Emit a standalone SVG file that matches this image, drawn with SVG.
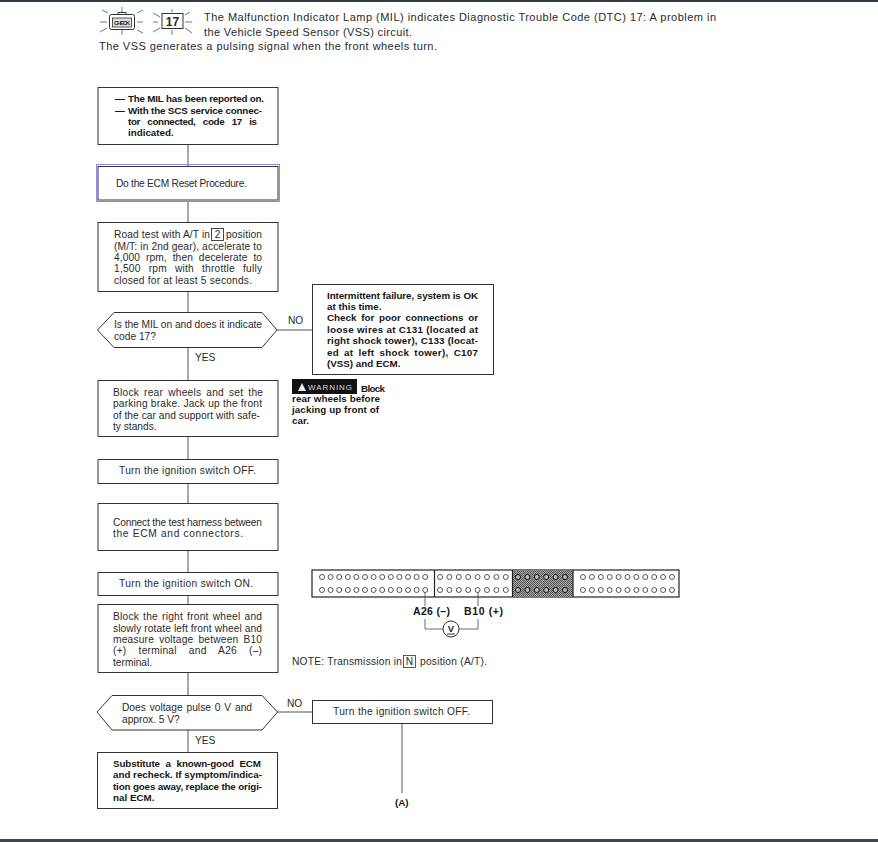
<svg xmlns="http://www.w3.org/2000/svg" width="878" height="842" viewBox="0 0 878 842">
<style>
text{font-family:"Liberation Sans",Arial,sans-serif;font-size:10.2px;fill:#2a2a2a}
.b{font-weight:700;fill:#151515;font-size:9.8px}
.h{font-size:11px}
.box{fill:#fff;stroke:#333;stroke-width:1}
.ln{fill:none;stroke:#555;stroke-width:1}
.ray{stroke:#555;stroke-width:.8}
.pin{fill:none;stroke:#444;stroke-width:.9}
.pd{fill:#bbb;stroke:#111;stroke-width:1}
</style>
<defs>
<pattern id="dots" width="2" height="2" patternUnits="userSpaceOnUse"><rect width="2" height="2" fill="#aaa"/><rect width="1" height="1" fill="#555"/><rect x="1" y="1" width="1" height="1" fill="#555"/></pattern>
<circle id="p" r="2.5" class="pin"/>
<circle id="q" r="2.5" class="pd"/>
</defs>
<rect width="878" height="842" fill="#fff"/>
<rect width="878" height="2" fill="#2f3e4a"/>
<rect y="839" width="878" height="3" fill="#3b4854"/>
<g id="header">
<path class="ray" d="M100 22h7M137 22h6M122 7v5M122 30v5M102 10l6 3M143 10l-6 3M100 32l7-4M143 33l-6-3M153 22h5M185 22h7M172 9v3M172 30v5M153 13l7 4M190 12l-5 3M153 32l7-4M192 33l-7-5"/>
<rect x="109.500" y="14.500" width="25" height="15" rx="2" fill="#fff" stroke="#333"/>
<rect x="112.500" y="18" width="19" height="9" fill="#ddd" stroke="#333" stroke-width=".8"/>
<path d="M118 14v-1.500h8v1.500" fill="none" stroke="#333"/>
<text x="114" y="25" textLength="16" style="font-size:6px;font-weight:700">CHECK</text>
<rect x="162" y="13.500" width="21" height="15" fill="#fff" stroke="#333"/>
<text x="172.500" y="26" text-anchor="middle" style="font-size:12px;font-weight:700">17</text>
<text class="h" x="204" y="21" textLength="512">The Malfunction Indicator Lamp (MIL) indicates Diagnostic Trouble Code (DTC) 17: A problem in</text>
<text class="h" x="204" y="36" textLength="208">the Vehicle Speed Sensor (VSS) circuit.</text>
<text class="h" x="99" y="50" textLength="338">The VSS generates a pulsing signal when the front wheels turn.</text>
</g>
<g id="connectors">
<path class="ln" d="M188 144V166M188 201V222M188 291V312M188 347V380M188 436V459M188 483V503M188 550V572M188 595V604M188 672V695M188 730V752M277 330H312M277 712H312M402 723V793"/>
</g>
<g id="n1"><rect class="box" x="98" y="87.500" width="180" height="57"/>
<text class="b" x="115" y="102">—</text><text class="b" x="128" y="102" textLength="136">The MIL has been reported on.</text>
<text class="b" x="115" y="114">—</text><text class="b" x="128" y="114" textLength="134">With the SCS service connec-</text>
<text class="b" x="128" y="125" word-spacing="5" textLength="129">tor connected, code 17 is</text>
<text class="b" x="128" y="136">indicated.</text></g>
<g id="n2"><rect class="box" x="98" y="166.500" width="180" height="33.500"/><rect x="96.500" y="164.500" width="183" height="37" fill="none" stroke="#8a8af0"/>
<text x="116" y="187" textLength="131">Do the ECM Reset Procedure.</text></g>
<g id="n3"><rect class="box" x="98" y="222.500" width="180" height="69"/>
<text x="114" y="238" textLength="96">Road test with A/T in</text><rect x="211.500" y="228.500" width="12" height="12" fill="none" stroke="#333" stroke-width=".9"/><text x="217.500" y="238" text-anchor="middle">2</text><text x="226" y="238" textLength="36">position</text>
<text x="114" y="250" textLength="148">(M/T: in 2nd gear), accelerate to</text>
<text x="114" y="261" word-spacing="3" textLength="148">4,000 rpm, then decelerate to</text>
<text x="114" y="272" word-spacing="5" textLength="148">1,500 rpm with throttle fully</text>
<text x="114" y="284" textLength="138">closed for at least 5 seconds.</text></g>
<g id="n4"><polygon class="box" points="97.500,330 114,312.500 262,312.500 277,330 262,347.500 114,347.500"/>
<text x="114" y="328" textLength="148">Is the MIL on and does it indicate</text>
<text x="114" y="340">code 17?</text></g>
<text x="288" y="324">NO</text>
<text x="195" y="361">YES</text>
<g id="n5"><rect class="box" x="312.500" y="284.500" width="181" height="90"/>
<text class="b" x="327" y="299" textLength="151">Intermittent failure, system is OK</text>
<text class="b" x="327" y="310">at this time.</text>
<text class="b" x="327" y="321" word-spacing="2" textLength="151">Check for poor connections or</text>
<text class="b" x="327" y="333" textLength="151">loose wires at C131 (located at</text>
<text class="b" x="327" y="344" textLength="151">right shock tower), C133 (locat-</text>
<text class="b" x="327" y="356" word-spacing="2" textLength="151">ed at left shock tower), C107</text>
<text class="b" x="327" y="367">(VSS) and ECM.</text></g>
<g id="warning"><rect x="292" y="379" width="65" height="15" fill="#111"/>
<polygon points="302,383 306,391 298,391" fill="#eee"/>
<text x="308" y="390" textLength="44" style="font-size:8px;fill:#ddd">WARNING</text>
<text class="b" x="361" y="392" textLength="24">Block</text>
<text class="b" x="292" y="402" textLength="88">rear wheels before</text>
<text class="b" x="292" y="413" textLength="87">jacking up front of</text>
<text class="b" x="292" y="424">car.</text></g>
<g id="n6"><rect class="box" x="98" y="380.500" width="180" height="56"/>
<text x="113" y="396" word-spacing="2" textLength="150">Block rear wheels and set the</text>
<text x="113" y="407" textLength="149">parking brake. Jack up the front</text>
<text x="113" y="419" textLength="147">of the car and support with safe-</text>
<text x="113" y="430">ty stands.</text></g>
<g id="n7"><rect class="box" x="98" y="459.500" width="180" height="24"/><text x="119" y="474" textLength="137">Turn the ignition switch OFF.</text></g>
<g id="n8"><rect class="box" x="98" y="503.500" width="180" height="47"/>
<text x="113" y="526" textLength="149">Connect the test harness between</text>
<text x="113" y="537" textLength="130">the ECM and connectors.</text></g>
<g id="n9"><rect class="box" x="98" y="572.500" width="180" height="23"/><text x="119" y="587" textLength="134">Turn the ignition switch ON.</text></g>
<g id="n10"><rect class="box" x="98" y="604.500" width="180" height="68"/>
<text x="113" y="620" word-spacing="1" textLength="149">Block the right front wheel and</text>
<text x="113" y="632" textLength="149">slowly rotate left front wheel and</text>
<text x="113" y="643" word-spacing="2" textLength="149">measure voltage between B10</text>
<text x="113" y="654" word-spacing="9" textLength="149">(+) terminal and A26 (–)</text>
<text x="113" y="666">terminal.</text></g>
<g id="n11"><polygon class="box" points="97,712 112,695.500 262,695.500 277.500,712 262,730 112,730"/>
<text x="122" y="711" word-spacing="1" textLength="130">Does voltage pulse 0 V and</text>
<text x="122" y="723">approx. 5 V?</text></g>
<text x="287" y="707">NO</text>
<text x="195" y="744">YES</text>
<g id="n12"><rect class="box" x="312.500" y="700.500" width="180" height="23"/><text x="333" y="715" textLength="137">Turn the ignition switch OFF.</text></g>
<g id="n13"><rect class="box" x="97.500" y="752.500" width="180" height="56"/>
<text class="b" x="113" y="767" word-spacing="3" textLength="148">Substitute a known-good ECM</text>
<text class="b" x="113" y="778" textLength="149">and recheck. If symptom/indica-</text>
<text class="b" x="113" y="790" textLength="149">tion goes away, replace the origi-</text>
<text class="b" x="113" y="801">nal ECM.</text></g>
<text class="b" x="395" y="806">(A)</text>
<g id="connector">
<rect x="312" y="570" width="367" height="27" fill="#fff" stroke="#222" stroke-width="1.200"/>
<rect x="513" y="570.500" width="60" height="26" fill="url(#dots)"/>
<path d="M434.500 570V597M512.500 570V597M573 570V597" stroke="#222" stroke-width="1.200"/>
<g id="pins">
<use href="#p" x="322" y="577"/><use href="#p" x="330.600" y="577"/><use href="#p" x="339.200" y="577"/><use href="#p" x="347.800" y="577"/><use href="#p" x="356.400" y="577"/><use href="#p" x="365" y="577"/><use href="#p" x="373.600" y="577"/><use href="#p" x="382.200" y="577"/><use href="#p" x="390.800" y="577"/><use href="#p" x="399.400" y="577"/><use href="#p" x="408" y="577"/><use href="#p" x="416.600" y="577"/><use href="#p" x="425.200" y="577"/>
<use href="#p" x="322" y="590"/><use href="#p" x="330.600" y="590"/><use href="#p" x="339.200" y="590"/><use href="#p" x="347.800" y="590"/><use href="#p" x="356.400" y="590"/><use href="#p" x="365" y="590"/><use href="#p" x="373.600" y="590"/><use href="#p" x="382.200" y="590"/><use href="#p" x="390.800" y="590"/><use href="#p" x="399.400" y="590"/><use href="#p" x="408" y="590"/><use href="#p" x="416.600" y="590"/><use href="#p" x="425.200" y="590"/>
<use href="#p" x="440" y="577"/><use href="#p" x="449.400" y="577"/><use href="#p" x="458.800" y="577"/><use href="#p" x="468.200" y="577"/><use href="#p" x="477.600" y="577"/><use href="#p" x="487" y="577"/><use href="#p" x="496.400" y="577"/><use href="#p" x="505.800" y="577"/>
<use href="#p" x="440" y="590"/><use href="#p" x="449.400" y="590"/><use href="#p" x="458.800" y="590"/><use href="#p" x="468.200" y="590"/><use href="#p" x="477.600" y="590"/><use href="#p" x="487" y="590"/><use href="#p" x="496.400" y="590"/><use href="#p" x="505.800" y="590"/>
<use href="#q" x="518" y="577"/><use href="#q" x="527.400" y="577"/><use href="#q" x="536.800" y="577"/><use href="#q" x="546.200" y="577"/><use href="#q" x="555.600" y="577"/><use href="#q" x="565" y="577"/>
<use href="#q" x="518" y="590"/><use href="#q" x="527.400" y="590"/><use href="#q" x="536.800" y="590"/><use href="#q" x="546.200" y="590"/><use href="#q" x="555.600" y="590"/><use href="#q" x="565" y="590"/>
<use href="#p" x="583" y="577"/><use href="#p" x="591.900" y="577"/><use href="#p" x="600.800" y="577"/><use href="#p" x="609.700" y="577"/><use href="#p" x="618.600" y="577"/><use href="#p" x="627.500" y="577"/><use href="#p" x="636.400" y="577"/><use href="#p" x="645.300" y="577"/><use href="#p" x="654.200" y="577"/><use href="#p" x="663.100" y="577"/><use href="#p" x="672" y="577"/>
<use href="#p" x="583" y="590"/><use href="#p" x="591.900" y="590"/><use href="#p" x="600.800" y="590"/><use href="#p" x="609.700" y="590"/><use href="#p" x="618.600" y="590"/><use href="#p" x="627.500" y="590"/><use href="#p" x="636.400" y="590"/><use href="#p" x="645.300" y="590"/><use href="#p" x="654.200" y="590"/><use href="#p" x="663.100" y="590"/><use href="#p" x="672" y="590"/>
</g>
<path d="M425 592V606M425 619V629H443M478 592V606M478 619V629H459" fill="none" stroke="#444" stroke-width=".8"/>
<circle cx="451" cy="629" r="8" fill="#fff" stroke="#333"/>
<text x="451" y="632" text-anchor="middle" style="font-size:9.500px;font-weight:700">V</text>
<path d="M447 634h8" stroke="#333"/>
<text class="b" x="413" y="615" textLength="37" style="font-size:10.500px">A26 (–)</text>
<text class="b" x="464" y="615" textLength="39" style="font-size:10.500px">B10 (+)</text>
</g>
<g id="note"><text x="292" y="665" textLength="110">NOTE: Transmission in</text><rect x="403.500" y="655.500" width="12" height="12" fill="none" stroke="#333" stroke-width=".8"/><text x="409.500" y="665" text-anchor="middle">N</text><text x="420" y="665" textLength="67">position (A/T).</text></g>
</svg>
